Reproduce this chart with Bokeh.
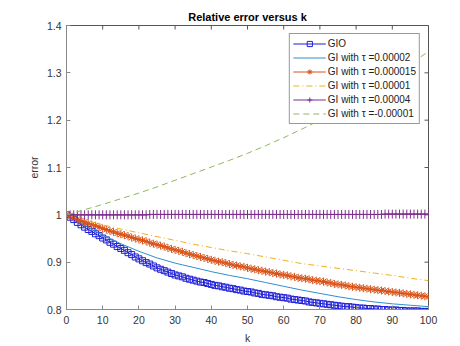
import math
from bokeh.plotting import figure
from bokeh.models import FixedTicker, Range1d, Legend, LegendItem
from bokeh.embed import file_html
from bokeh.resources import INLINE

# ---- data ----
K_ALL = list(range(0, 101))
K_5 = list(range(0, 101, 5))

GIO = [1.000, 0.995, 0.990, 0.984, 0.979, 0.974,
       0.969, 0.965, 0.960, 0.956, 0.951,
       0.947, 0.942, 0.938, 0.933, 0.929,
       0.925, 0.920, 0.916, 0.911, 0.907,
       0.903, 0.899, 0.896, 0.892, 0.888,
       0.885, 0.882, 0.879, 0.876, 0.873,
       0.871, 0.869, 0.866, 0.864, 0.862,
       0.860, 0.858, 0.857, 0.855, 0.853,
       0.851, 0.850, 0.848, 0.847, 0.845,
       0.844, 0.842, 0.841, 0.839, 0.838,
       0.837, 0.835, 0.834, 0.832, 0.831,
       0.830, 0.829, 0.827, 0.826, 0.825,
       0.824, 0.822, 0.821, 0.820, 0.819,
       0.818, 0.816, 0.815, 0.814, 0.813,
       0.812, 0.811, 0.810, 0.809, 0.808,
       0.807, 0.806, 0.806, 0.805, 0.804,
       0.803, 0.803, 0.802, 0.802, 0.801,
       0.801, 0.800, 0.800, 0.799, 0.799,
       0.799, 0.798, 0.798, 0.797, 0.797,
       0.797, 0.797, 0.796, 0.796, 0.796]

TAU_000015 = [1.000, 0.997, 0.994, 0.991, 0.988, 0.985,
              0.982, 0.979, 0.977, 0.974, 0.971,
              0.969, 0.966, 0.964, 0.961, 0.959,
              0.957, 0.955, 0.952, 0.950, 0.948,
              0.946, 0.944, 0.941, 0.939, 0.937,
              0.935, 0.933, 0.930, 0.928, 0.926,
              0.924, 0.922, 0.919, 0.917, 0.915,
              0.913, 0.911, 0.909, 0.907, 0.905,
              0.903, 0.901, 0.900, 0.898, 0.896,
              0.894, 0.893, 0.891, 0.890, 0.888,
              0.886, 0.885, 0.883, 0.882, 0.880,
              0.879, 0.877, 0.876, 0.874, 0.873,
              0.872, 0.870, 0.869, 0.867, 0.866,
              0.865, 0.864, 0.862, 0.861, 0.860,
              0.859, 0.857, 0.856, 0.854, 0.853,
              0.852, 0.851, 0.849, 0.848, 0.847,
              0.846, 0.845, 0.844, 0.843, 0.842,
              0.841, 0.840, 0.839, 0.838, 0.837,
              0.836, 0.835, 0.834, 0.833, 0.832,
              0.831, 0.830, 0.829, 0.828, 0.827]

TAU_00004 = [1.0000, 1.0000, 1.0000, 1.0000, 1.0000, 1.0000, 1.0000, 1.0000, 1.0000, 1.0000,
             1.0000, 1.0000, 1.0000, 1.0000, 1.0000, 1.0000, 1.0000, 1.0000, 1.0000, 1.0000,
             1.0000, 1.0000, 1.0000, 1.0008, 1.0008, 1.0008, 1.0008, 1.0008, 1.0008, 1.0008,
             1.0008, 1.0008, 1.0008, 1.0008, 1.0008, 1.0008, 1.0008, 1.0008, 1.0008, 1.0008,
             1.0008, 1.0008, 1.0008, 1.0008, 1.0008, 1.0008, 1.0008, 1.0008, 1.0008, 1.0008,
             1.0008, 1.0008, 1.0008, 1.0008, 1.0008, 1.0008, 1.0008, 1.0008, 1.0008, 1.0008,
             1.0008, 1.0008, 1.0008, 1.0008, 1.0008, 1.0008, 1.0008, 1.0008, 1.0008, 1.0008,
             1.0008, 1.0008, 1.0008, 1.0008, 1.0008, 1.0008, 1.0008, 1.0008, 1.0008, 1.0008,
             1.0008, 1.0008, 1.0008, 1.0008, 1.0008, 1.0008, 1.0008, 1.0008, 1.0015, 1.0015,
             1.0015, 1.0015, 1.0015, 1.0015, 1.0015, 1.0015, 1.0015, 1.0015, 1.0015, 1.0015,
             1.0015]

TAU_00002 = [1.000, 0.978, 0.957, 0.939, 0.923, 0.909, 0.898, 0.889, 0.880, 0.872, 0.865,
             0.857, 0.849, 0.841, 0.834, 0.827, 0.821, 0.816, 0.812, 0.809, 0.806]
TAU_00001 = [1.000, 0.989, 0.979, 0.970, 0.962, 0.954, 0.946, 0.938, 0.931, 0.924, 0.918,
             0.911, 0.904, 0.897, 0.892, 0.887, 0.882, 0.877, 0.872, 0.866, 0.861]
TAU_NEG00001 = [1.000, 1.011, 1.022, 1.034, 1.046, 1.059, 1.073, 1.087, 1.101, 1.115, 1.130,
                1.146, 1.163, 1.181, 1.200, 1.222, 1.245, 1.269, 1.294, 1.319, 1.345]

X_TICKS = [0, 10, 20, 30, 40, 50, 60, 70, 80, 90, 100]
Y_TICKS = [0.8, 0.9, 1.0, 1.1, 1.2, 1.3, 1.4]
Y_TICK_LABELS = {0.8: "0.8", 0.9: "0.9", 1.0: "1", 1.1: "1.1", 1.2: "1.2", 1.3: "1.3", 1.4: "1.4"}
X_MIN, X_MAX = 0, 100
Y_MIN, Y_MAX = 0.8, 1.4

LABELS = ["GIO", "GI with τ =0.00002", "GI with τ =0.000015", "GI with τ =0.00001",
          "GI with τ =0.00004", "GI with τ =-0.00001"]

FONT = "Liberation Sans"
TXT = "#333333"
AX = "#8a8a8a"
BOX = "#555555"

p = figure(width=452, height=346, output_backend="svg", toolbar_location=None,
           x_range=Range1d(X_MIN, X_MAX), y_range=Range1d(Y_MIN, Y_MAX),
           min_border_left=66, min_border_right=24, min_border_top=25, min_border_bottom=37,
           x_axis_label="k", y_axis_label="error")
p.title.text = "Relative error versus k"
p.title.align = "center"
p.title.text_font = FONT
p.title.text_font_size = "11px"
p.title.text_font_style = "bold"
p.title.text_color = "#000000"
p.title.standoff = 5
p.grid.visible = False
p.outline_line_color = BOX
p.outline_line_width = 1
p.background_fill_color = "white"
p.border_fill_color = "white"

def style_axis(ax):
    ax.major_tick_in = 4
    ax.major_tick_out = 0
    ax.minor_tick_line_color = None
    ax.axis_line_color = AX
    ax.major_tick_line_color = AX
    ax.axis_line_width = 1
    ax.major_label_text_font = FONT
    ax.major_label_text_font_size = "10.5px"
    ax.major_label_text_color = TXT
    ax.axis_label_text_font = FONT
    ax.axis_label_text_font_size = "10.5px"
    ax.axis_label_text_font_style = "normal"
    ax.axis_label_text_color = TXT

xa = p.xaxis[0]
ya = p.yaxis[0]
xa.ticker = FixedTicker(ticks=X_TICKS)
ya.ticker = FixedTicker(ticks=Y_TICKS)
ya.major_label_overrides = Y_TICK_LABELS
style_axis(xa)
style_axis(ya)
xa.major_label_standoff = 6
xa.axis_label_standoff = 5
ya.major_label_standoff = 5
ya.axis_label_standoff = 4

# mirrored inward ticks on top and right edges of the box
p.ray(x=X_TICKS, y=[Y_MAX] * len(X_TICKS), length=4, length_units="screen",
      angle=-math.pi / 2, line_color=BOX, line_width=1)
p.ray(x=[X_MAX] * len(Y_TICKS), y=Y_TICKS, length=4, length_units="screen",
      angle=math.pi, line_color=BOX, line_width=1)

# series
c_gio = "#1f1fd6"
r_gio_l = p.line(K_ALL, GIO, line_color=c_gio, line_width=1)
r_gio_m = p.scatter(K_ALL, GIO, marker="square", size=6, line_color=c_gio, fill_color=None, line_width=1)

c2 = "#2e8fcf"
r2 = p.line(K_5, TAU_00002, line_color=c2, line_width=1)

c3 = "#D95319"
r3_l = p.line(K_ALL, TAU_000015, line_color=c3, line_width=1)
r3_m = p.scatter(K_ALL, TAU_000015, marker="asterisk", size=8, line_color=c3, line_width=1)

c4 = "#EDB120"
r4 = p.line(K_5, TAU_00001, line_color=c4, line_width=1, line_dash="6 3 1 3")

c5 = "#7E2F8E"
r5_l = p.line(K_ALL, TAU_00004, line_color=c5, line_width=1)
r5_m = p.scatter(K_ALL, TAU_00004, marker="cross", size=9, line_color=c5, line_width=1)

c6 = "#8fb85a"
r6 = p.line(K_5, TAU_NEG00001, line_color=c6, line_width=1, line_dash="6 4")

legend = Legend(items=[
    LegendItem(label=LABELS[0], renderers=[r_gio_l, r_gio_m]),
    LegendItem(label=LABELS[1], renderers=[r2]),
    LegendItem(label=LABELS[2], renderers=[r3_l, r3_m]),
    LegendItem(label=LABELS[3], renderers=[r4]),
    LegendItem(label=LABELS[4], renderers=[r5_l, r5_m]),
    LegendItem(label=LABELS[5], renderers=[r6]),
], location="top_right")
legend.margin = 8
legend.padding = 3
legend.spacing = 1
legend.glyph_width = 33
legend.glyph_height = 13
legend.label_height = 13
legend.label_standoff = 2
legend.label_text_font = FONT
legend.label_text_font_size = "10px"
legend.label_text_color = "#222222"
legend.border_line_color = "#333333"
legend.border_line_width = 1
legend.background_fill_color = "white"
legend.background_fill_alpha = 1.0
p.add_layout(legend, "center")

open("out.html", "w").write(file_html(p, INLINE))
